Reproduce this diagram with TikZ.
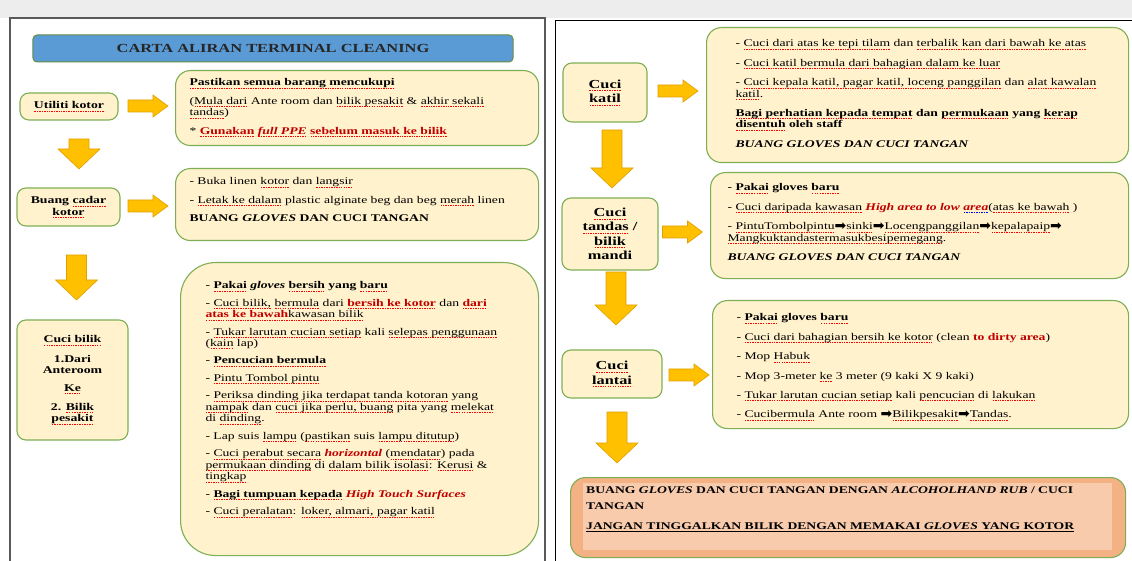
\documentclass[tikz,border=0pt]{standalone}
\usepackage{fontspec}
\setmainfont{Liberation Serif}[FakeStretch=1.33]
\newfontfamily\djv{DejaVu Sans}
\definecolor{cream}{HTML}{FFF2CC}
\definecolor{bgreen}{HTML}{7FAF55}
\definecolor{gold}{HTML}{FFC000}
\definecolor{goldline}{HTML}{E0A000}
\definecolor{tblue}{HTML}{5B9BD5}
\definecolor{tred}{HTML}{C00000}
\definecolor{orout}{HTML}{F4B183}
\definecolor{orin}{HTML}{F8CBAD}
\newcommand\wavy[2]{\leavevmode\begingroup\setbox0\hbox{#2}\rlap{\hbox to \wd0{\color{#1}\xleaders\hbox to 2.4bp{\hss\rule[-2.6bp]{1.4bp}{0.6bp}\hss}\hfill}}\box0\endgroup}
\newcommand\sq[1]{\wavy{red}{#1}}
\newcommand\bq[1]{\wavy{blue}{#1}}
\newcommand\ul[1]{\leavevmode\begingroup\setbox0\hbox{#1}\rlap{\rule[-2bp]{\wd0}{0.6bp}}\box0\endgroup}
\newcommand\R[1]{\textcolor{tred}{#1}}
\newcommand\ar{{\djv\fontsize{14}{10}\selectfont\raisebox{-0.5bp}{\char"27A1}}}
\newcommand\tbx[5]{\parbox[c][\dimexpr #2bp-#4bp-#4bp\relax][t]{\dimexpr #1bp-#3bp-#3bp\relax}{\raggedright\fontsize{10.3}{11.5}\selectfont #5}}
\tikzset{
  tb/.style 2 args={draw=bgreen, fill=cream, line width=1.1bp, rounded corners=15bp, anchor=north west, inner xsep=#1bp, inner ysep=#2bp},
  lab/.style={draw=bgreen, fill=cream, line width=1.1bp, rounded corners=9bp, align=center, inner sep=0, font=\bfseries\fontsize{10.4}{11.5}\selectfont},
  rlab/.style={lab, font=\bfseries\fontsize{12.3}{14.5}\selectfont},
  arrowfill/.style={fill=gold, draw=goldline, line width=0.6bp},
  rarr/.pic={\path[arrowfill] (-20,-6) -- (5,-6) -- (5,-11) -- (20,0) -- (5,11) -- (5,6) -- (-20,6) -- cycle;},
  darr/.pic={\path[arrowfill] (-10,-#1/2) -- (10,-#1/2) -- (10,#1/2-20) -- (21,#1/2-20) -- (0,#1/2) -- (-21,#1/2-20) -- (-10,#1/2-20) -- cycle;},
}
\begin{document}
\begin{tikzpicture}[x=1bp,y=-1bp]
\useasboundingbox (0,0) rectangle (1132,561);
\fill[white] (0,0) rectangle (1132,561);
\fill[black!7] (0,0) rectangle (1132,18);
% panel frames
\draw[black!65, line width=1.2bp] (10,561) -- (10,18) -- (545,18) -- (545,561);
\draw[black, line width=0.8bp] (555,561) -- (555,20) -- (1132,20);

% title
\node[draw=bgreen!80!black, fill=tblue, line width=1bp, rounded corners=4bp, minimum width=480bp, minimum height=27bp, inner sep=0,
  font=\bfseries\fontsize{12.4}{14}\selectfont, text=black!85] (title) at (273,48.5) {CARTA ALIRAN TERMINAL CLEANING};

% ---------------- left column
\node[lab, minimum width=98bp, minimum height=27bp] (a1) at (69,106.5) {\sq{Utiliti kotor}};
\pic at (148,106) {rarr};
\node[tb={14}{8}] (b1) at (175,70) {\tbx{363}{75}{14}{8}{%
\textbf{\sq{Pastikan semua barang mencukupi}}\\[7bp]
(\sq{Mula dari} Ante room dan \sq{bilik pesakit} \& \sq{akhir sekali}\\
\sq{tandas})\\[7bp]
* \R{\textbf{\sq{Gunakan} \textit{\sq{full PPE}} \sq{sebelum masuk ke bilik}}}}};
\pic at (79,154) {darr=30};

\node[lab, minimum width=103bp, minimum height=38bp] (a2) at (68.5,207) {Buang \sq{cadar}\\\sq{kotor}};
\pic at (148,206) {rarr};
\node[tb={14}{9}] (b2) at (175,168) {\tbx{363}{72}{14}{9}{%
- Buka linen \sq{kotor} dan \sq{langsir}\\[7bp]
- \sq{Letak ke dalam} plastic alginate beg dan beg \sq{merah} linen\\[7bp]
\textbf{BUANG \textit{GLOVES} DAN CUCI TANGAN}}};
\pic at (76.5,277.5) {darr=45};

\node[lab, minimum width=111bp, minimum height=120bp] (a3) at (72.5,380) {\sq{Cuci bilik}\\[8bp]1.Dari\\Anteroom\\[6bp]\sq{Ke}\\[8bp]2. \sq{Bilik}\\\sq{pesakit}};
\node[tb={25}{19}, rounded corners=35bp] (b3) at (180,262) {\tbx{358}{293}{25}{19}{%
- \textbf{\sq{Pakai} \textit{gloves} \sq{bersih} yang \sq{baru}}\\[6bp]
- \sq{Cuci bilik,} \sq{bermula} dari \R{\textbf{\sq{bersih ke kotor}}} dan \R{\textbf{\sq{dari}}}\\
\R{\textbf{\sq{atas ke bawah}}}\sq{kawasan bilik}\\[6bp]
- \sq{Tukar larutan cucian setiap} kali \sq{selepas penggunaan}\\
(\sq{kain} lap)\\[6bp]
- \textbf{\sq{Pencucian bermula}}\\[6bp]
- \sq{Pintu Tombol pintu}\\[6bp]
- \sq{Periksa dinding jika terdapat tanda kotoran} yang\\
\sq{nampak} dan \sq{cuci jika perlu, buang} pita yang \sq{melekat}\\
di \sq{dinding}.\\[6bp]
- Lap suis \sq{lampu} (\sq{pastikan} suis \sq{lampu ditutup})\\[6bp]
- \sq{Cuci perabut secara} \R{\textbf{\textit{horizontal}}} (\sq{mendatar}) pada\\
\sq{permukaan dinding} di \sq{dalam bilik isolasi}: \sq{Kerusi} \&\\
\sq{tingkap}\\[6bp]
- \textbf{\sq{Bagi tumpuan kepada} \R{\textit{High Touch Surfaces}}}\\[6bp]
- \sq{Cuci peralatan}: \sq{loker, almari, pagar katil}}};

% ---------------- right column
\node[rlab, minimum width=84bp, minimum height=59bp] (c1) at (605,92.5) {\sq{Cuci}\\\sq{katil}};
\pic at (678,91) {rarr};
\node[tb={29}{12}] (d1) at (706,27) {\tbx{422}{135}{29}{12}{%
- \sq{Cuci dari atas ke tepi tilam} dan \sq{terbalik kan dari bawah ke atas}\\[8bp]
- \sq{Cuci katil bermula dari bahagian dalam ke luar}\\[8bp]
- \sq{Cuci kepala katil, pagar katil, loceng panggilan} dan \sq{alat kawalan}\\
\sq{katil}.\\[8bp]
\textbf{\sq{Bagi perhatian kepada tempat} dan \sq{permukaan} yang \sq{kerap}}\\
\textbf{\sq{disentuh} oleh staff}\\[8bp]
\textbf{\textit{BUANG GLOVES DAN CUCI TANGAN}}}};
\pic at (612,159) {darr=58};

\node[rlab, minimum width=96bp, minimum height=72bp] (c2) at (610,234) {\sq{Cuci}\\\sq{tandas} /\\\sq{bilik}\\mandi};
\pic at (682.5,232) {rarr};
\node[tb={17}{11}] (d2) at (710,172) {\tbx{418}{106}{17}{11}{%
- \textbf{\sq{Pakai} gloves \sq{baru}}\\[8bp]
- \sq{Cuci daripada kawasan} \R{\textbf{\textit{High area to low \bq{area}}}}(\sq{atas ke bawah} )\\[8bp]
- \sq{PintuTombolpintu}\ar\sq{sinki}\ar\sq{Locengpanggilan}\ar\sq{kepalapaip}\ar\\
\sq{Mangkuktandastermasukbesipemegang}.\\[8bp]
\textbf{\textit{BUANG GLOVES DAN CUCI TANGAN}}}};
\pic at (616,298.5) {darr=53};

\node[rlab, minimum width=100bp, minimum height=48bp] (c3) at (612,374) {\sq{Cuci}\\\sq{lantai}};
\pic at (689,375) {rarr};
\node[tb={24}{13}] (d3) at (712,300) {\tbx{416}{128}{24}{13}{%
- \textbf{\sq{Pakai} gloves \sq{baru}}\\[8bp]
- \sq{Cuci dari bahagian bersih ke kotor} (clean \R{\textbf{to dirty area}})\\[8bp]
- Mop \sq{Habuk}\\[8bp]
- Mop 3-meter \sq{ke} 3 meter (9 kaki X 9 kaki)\\[8bp]
- \sq{Tukar larutan cucian setiap} kali \sq{pencucian} di \sq{lakukan}\\[8bp]
- \sq{Cucibermula} Ante room \ar\sq{Bilikpesakit}\ar\sq{Tandas}.}};
\pic at (617,437.5) {darr=51};

% final box
\node[draw=bgreen, fill=orout, line width=1.1bp, rounded corners=15bp, anchor=north west, minimum width=555bp, minimum height=80bp, inner sep=0] (e) at (570,477) {};
\node[fill=orin, anchor=north west, inner xsep=3bp, inner ysep=4bp] (ein) at (583,483) {\tbx{529}{67}{3}{4}{%
\textbf{BUANG \textit{GLOVES} DAN CUCI TANGAN DENGAN \textit{ALCOHOLHAND RUB} / CUCI}\\[4bp]
\textbf{TANGAN}\\[9bp]
\textbf{\ul{JANGAN TINGGALKAN BILIK DENGAN MEMAKAI \textit{GLOVES} YANG KOTOR}}}};
\end{tikzpicture}
\end{document}
